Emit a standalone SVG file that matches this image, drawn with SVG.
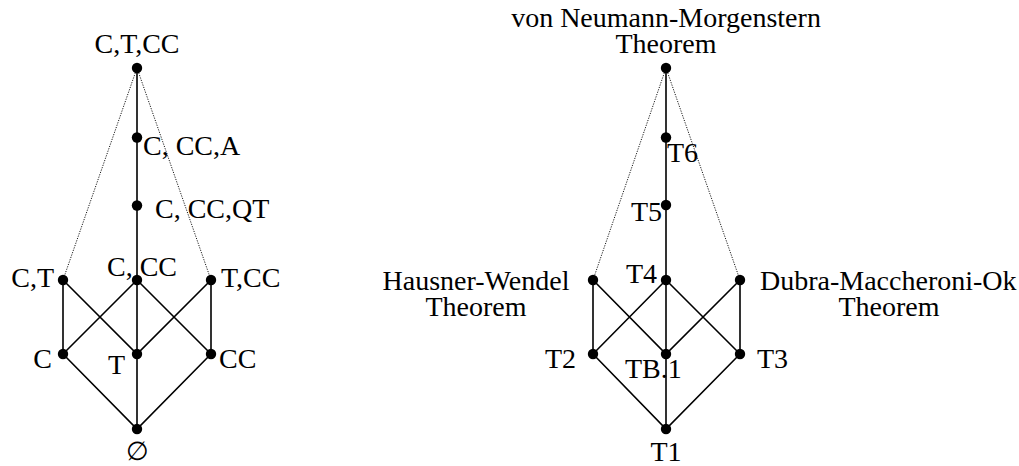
<svg xmlns="http://www.w3.org/2000/svg" width="1019" height="466" viewBox="0 0 1019 466">
<style>
.e{stroke:#000;stroke-width:1.6;fill:none}
.d{stroke:#000;stroke-width:0.9;stroke-dasharray:1.2 1.3;fill:none}
.n{fill:#000}
text{font-family:"Liberation Serif","Times New Roman",serif;font-size:28px;fill:#000}
.m{text-anchor:middle}
.r{text-anchor:end}
</style>
<rect width="1019" height="466" fill="#fff"/>
<g id="connectors">
<path class="d" d="M137,68 L63,280 M137,68 L211,280"/>
<path class="e" d="M137,68 V429 M63,280 V354 M211,280 V354 M63,280 L137,354 L211,280 M137,280 L63,354 M137,280 L211,354 M63,354 L137,429 L211,354"/>
<path class="d" d="M666,68 L593,280 M666,68 L740,280"/>
<path class="e" d="M666,68 V429 M593,280 V354 M740,280 V354 M593,280 L666,354 L740,280 M666,280 L593,354 M666,280 L740,354 M593,354 L666,429 L740,354"/>
</g>
<g id="n-CTCC"><circle class="n" cx="137" cy="68" r="5.2"/><text class="m" x="137" y="53">C,T,CC</text></g>
<g id="n-CCCA"><circle class="n" cx="137" cy="137.5" r="5.2"/><text x="143" y="155">C, CC,A</text></g>
<g id="n-CCCQT"><circle class="n" cx="137" cy="205.5" r="5.2"/><text x="155" y="218">C, CC,QT</text></g>
<g id="n-CT"><circle class="n" cx="63" cy="280" r="5.2"/><text class="r" x="54" y="287">C,T</text></g>
<g id="n-CCC"><circle class="n" cx="137" cy="280" r="5.2"/><text x="107" y="276">C, CC</text></g>
<g id="n-TCC"><circle class="n" cx="211" cy="280" r="5.2"/><text x="221" y="287">T,CC</text></g>
<g id="n-C"><circle class="n" cx="63" cy="354" r="5.2"/><text class="r" x="52" y="368">C</text></g>
<g id="n-T"><circle class="n" cx="137" cy="354" r="5.2"/><text x="108" y="374">T</text></g>
<g id="n-CC"><circle class="n" cx="211" cy="354" r="5.2"/><text x="219" y="368">CC</text></g>
<g id="n-empty"><circle class="n" cx="137" cy="429" r="5.2"/><text class="m" x="137" y="460" style="font-family:'DejaVu Serif',serif;font-size:26px">∅</text></g>
<g id="n-vNM"><circle class="n" cx="666" cy="68" r="5.2"/><text class="m" x="666" y="27">von Neumann-Morgenstern</text><text class="m" x="666" y="53">Theorem</text></g>
<g id="n-T6"><circle class="n" cx="666" cy="137.5" r="5.2"/><text x="667" y="162">T6</text></g>
<g id="n-T5"><circle class="n" cx="666" cy="205" r="5.2"/><text class="r" x="662" y="221">T5</text></g>
<g id="n-HW"><circle class="n" cx="593" cy="280" r="5.2"/><text class="m" x="476" y="290">Hausner-Wendel</text><text class="m" x="476" y="316">Theorem</text></g>
<g id="n-T4"><circle class="n" cx="666" cy="280" r="5.2"/><text class="r" x="657" y="283">T4</text></g>
<g id="n-DMO"><circle class="n" cx="740" cy="280" r="5.2"/><text x="760" y="290">Dubra-Maccheroni-Ok</text><text class="m" x="889" y="316">Theorem</text></g>
<g id="n-T2"><circle class="n" cx="593" cy="354" r="5.2"/><text class="r" x="576" y="368">T2</text></g>
<g id="n-TB1"><circle class="n" cx="666" cy="354" r="5.2"/><text x="625" y="378">TB.1</text></g>
<g id="n-T3"><circle class="n" cx="740" cy="354" r="5.2"/><text x="757" y="368">T3</text></g>
<g id="n-T1"><circle class="n" cx="666" cy="429" r="5.2"/><text class="m" x="666" y="461">T1</text></g>
</svg>
